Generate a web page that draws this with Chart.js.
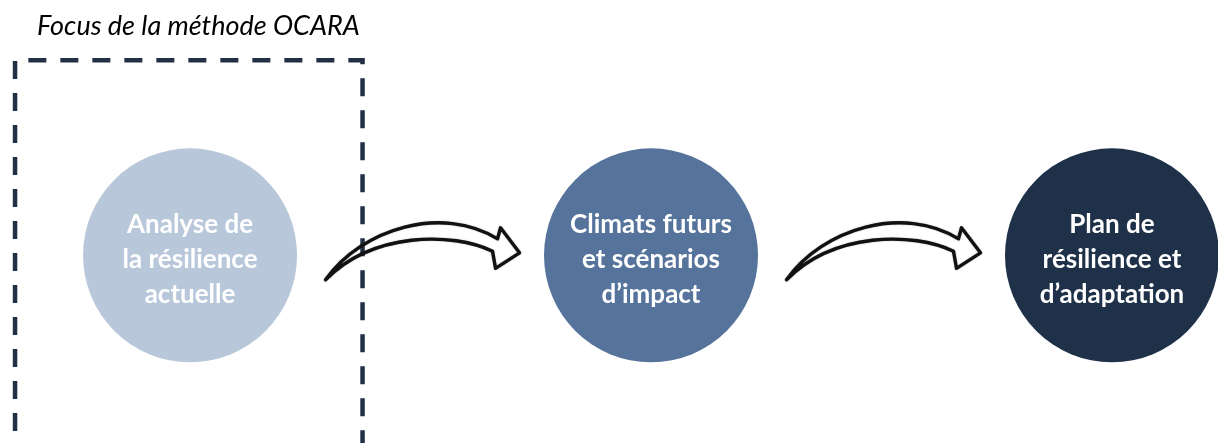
<!DOCTYPE html>
<html>
<head>
<meta charset="utf-8">
<script src="https://cdn.jsdelivr.net/npm/chart.js@4"></script>
<style>
  html, body { margin: 0; padding: 0; background: #fff; }
  #wrap { width: 1218px; height: 443px; position: relative; }
</style>
</head>
<body>
<div id="wrap"><canvas id="ocaraChart"></canvas></div>
<script>
// Data: the three steps of the method, in order, with their labels split in lines
const chartTitle = "Focus de la méthode OCARA";
const stepOrder = [1, 2, 3];
const stepLines = [
  ["Analyse de", "la résilience", "actuelle"],
  ["Climats futurs", "et scénarios", "d’impact"],
  ["Plan de", "résilience et", "d’adaptation"],
];
const focusStep = 1;

const stepColors = ["#b8c7da", "#56739b", "#1f3148"];
const fontFamily = "Lato, 'Open Sans', 'DejaVu Sans', sans-serif";

// dashed frame round the focused step
const focusFrame = {
  id: "focusFrame",
  beforeDatasetsDraw(chart) {
    const pt = chart.getDatasetMeta(0).data[focusStep - 1];
    if (!pt) return;
    const ctx = chart.ctx;
    ctx.save();
    ctx.strokeStyle = "#222f45";
    ctx.lineWidth = 4.5;
    ctx.setLineDash([18, 14]);
    ctx.beginPath();
    ctx.moveTo(pt.x - 175, chart.height + 20);
    ctx.lineTo(pt.x - 175, pt.y - 195);
    ctx.lineTo(pt.x + 172.5, pt.y - 195);
    ctx.lineTo(pt.x + 172.5, chart.height + 20);
    ctx.stroke();
    ctx.restore();
  },
};

// labels inside circles and hand-drawn arrows between them
const stepDecor = {
  id: "stepDecor",
  afterDatasetsDraw(chart) {
    const pts = chart.getDatasetMeta(0).data;
    const ctx = chart.ctx;
    ctx.save();

    // arrows
    ctx.strokeStyle = "#111";
    ctx.lineWidth = 3.4;
    ctx.lineJoin = "round";
    ctx.lineCap = "round";
    ctx.shadowColor = "rgba(0,0,0,0.35)";
    ctx.shadowBlur = 1.5;
    for (let i = 0; i < pts.length - 1; i++) {
      const mx = (pts[i].x + pts[i + 1].x) / 2;
      const cy = pts[i].y;
      const p = (dx, dy) => [mx + dx, cy + dy];
      ctx.beginPath();
      ctx.moveTo(...p(-95, 24.5));
      ctx.bezierCurveTo(...p(-58, -27.5), ...p(22, -50.5), ...p(77, -16.5));
      ctx.lineTo(...p(80, -27.5));
      ctx.lineTo(...p(99, -2.5));
      ctx.lineTo(...p(75, 13));
      ctx.lineTo(...p(72, -4));
      ctx.bezierCurveTo(...p(32, -23.5), ...p(-48, -23.5), ...p(-95, 24.5));
      ctx.stroke();
    }
    ctx.shadowBlur = 0;
    ctx.shadowColor = "transparent";

    // step labels
    ctx.fillStyle = "#ffffff";
    ctx.font = "bold 26px " + fontFamily;
    ctx.textAlign = "center";
    ctx.textBaseline = "middle";
    pts.forEach((pt, i) => {
      const lines = stepLines[i];
      const lh = 35;
      const top = pt.y + 4 - ((lines.length - 1) * lh) / 2;
      lines.forEach((ln, j) => ctx.fillText(ln, pt.x, top + j * lh));
    });
    ctx.restore();
  },
};

new Chart(document.getElementById("ocaraChart"), {
  type: "scatter",
  data: {
    datasets: [
      {
        data: stepOrder.map((s) => ({ x: s, y: 0 })),
        backgroundColor: stepColors,
        borderWidth: 0,
        pointRadius: 107,
        pointHoverRadius: 107,
        clip: false,
      },
    ],
  },
  options: {
    responsive: true,
    maintainAspectRatio: false,
    animation: false,
    events: [],
    layout: { autoPadding: false, padding: { left: 37, right: 0, top: 0, bottom: 0 } },
    scales: {
      x: { type: "linear", display: false, min: 0.668, max: 3.23 },
      y: { type: "linear", display: false, min: -0.907, max: 1 },
    },
    plugins: {
      legend: { display: false },
      tooltip: { enabled: false },
      title: {
        display: true,
        text: chartTitle,
        align: "start",
        color: "#000",
        font: { family: fontFamily, style: "italic", weight: "normal", size: 27 },
        padding: { top: 10, bottom: 6 },
      },
    },
  },
  plugins: [focusFrame, stepDecor],
});
</script>
</body>
</html>
